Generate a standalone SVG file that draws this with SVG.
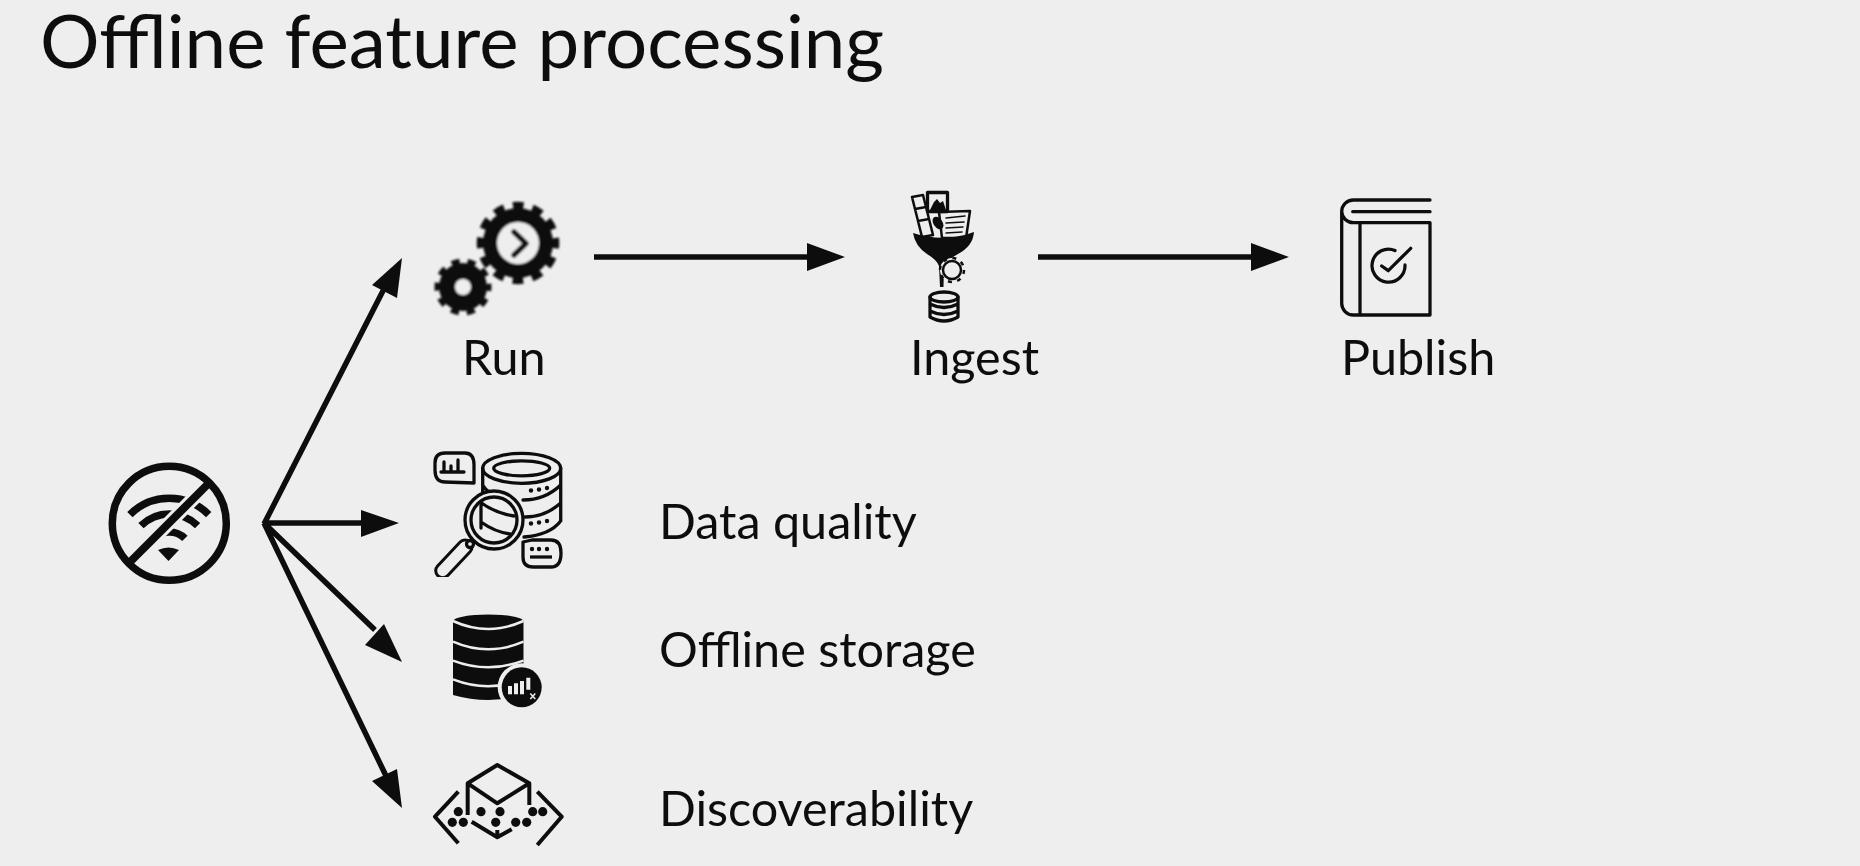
<svg xmlns="http://www.w3.org/2000/svg" width="1860" height="866" viewBox="0 0 1860 866">
<style>
.t{font-family:Lato,"Open Sans",sans-serif;fill:#111}
.l{font-size:48.500px}
.c{stroke:#111;stroke-width:5.500;fill:none}
.h{fill:#111;stroke:none}
.o{fill:none;stroke:#111;stroke-width:3.300;stroke-linecap:round;stroke-linejoin:round}
.d{fill:#111}
.bg{fill:#eee}
</style>
<defs>
<filter id="s" x="-5%" y="-5%" width="110%" height="110%"><feGaussianBlur stdDeviation="0.7"/></filter>
<filter id="g" x="-5%" y="-5%" width="110%" height="110%"><feGaussianBlur stdDeviation="0.8"/></filter>
<filter id="x" x="-2%" y="-5%" width="104%" height="110%"><feGaussianBlur stdDeviation="0.4"/></filter>
</defs>
<rect width="1860" height="866" fill="#eee"/>
<text id="title" class="t" x="40" y="68" font-size="74.500" filter="url(#x)">Offline feature processing</text>

<g id="connectors" filter="url(#x)">
<path class="c" d="M264 524L388 281M264 523H365M264 523L375 630M264 523L388 780M594 257H810M1038 257H1254"/>
<path class="h" d="M402 258L397 298L372 285ZM399 523L361 537V510ZM402 662L365 645L384 624ZM402 808L372 781L397 769ZM845 257L807 271V243ZM1289 257L1251 271V243Z"/>
</g>

<g id="node-offline" filter="url(#s)">
<path d="M129.900 514.600A55.700 55.700 0 0 1 208.700 514.600M141 525.700A40 40 0 0 1 197.600 525.700M153.700 538.400A22 22 0 0 1 184.900 538.400" fill="none" stroke="#111" stroke-width="7.500"/>
<path class="d" d="M158 550Q168.500 545 179 550L168.500 561Z"/>
<path d="M128 564L210 482" stroke="#eee" stroke-width="14" fill="none"/>
<path d="M131 561L207 485" stroke="#111" stroke-width="8" fill="none"/>
<circle cx="169.300" cy="523.300" r="57" fill="none" stroke="#111" stroke-width="7.500"/>
</g>

<g id="node-run">
<g filter="url(#g)">
<circle class="d" cx="518" cy="243" r="35"/>
<circle cx="518" cy="243" r="37" fill="none" stroke="#111" stroke-width="8.500" stroke-dasharray="10.500 8.870" stroke-dashoffset="5.250"/>
<circle class="bg" cx="518" cy="243" r="21"/>
<path d="M514 232L526 243.500L514 255" fill="none" stroke="#111" stroke-width="5.500" stroke-linecap="round" stroke-linejoin="round"/>
<circle class="d" cx="463" cy="287" r="24"/>
<circle cx="463" cy="287" r="25.500" fill="none" stroke="#111" stroke-width="6" stroke-dasharray="8 8" stroke-dashoffset="4"/>
<circle class="bg" cx="463" cy="287" r="8"/>
</g>
<text class="t l" x="462" y="375" filter="url(#x)">Run</text>
</g>

<g id="node-ingest">
<g filter="url(#s)">
<path class="o" style="stroke-width:2.500" d="M912 197L923 195L933 235L922 237ZM915 209L926 207M918 221L929 219"/>
<rect class="o" x="927.500" y="192.500" width="20" height="19"/>
<path class="d" d="M930 210L934 202L937 199L940 203L943 201L946 210Z"/>
<path class="o" style="stroke-width:2.500" d="M939 212L970 211L966 238H942Z"/>
<path class="o" style="stroke-width:1.500" d="M946 218L965 216M946 223L964 222M946 228L963 227M946 233L962 232"/>
<ellipse class="d" cx="938" cy="223" rx="4.500" ry="7" transform="rotate(-35 938 223)"/>
<path class="d" d="M913 233Q944 243 974 232Q973 246 958 254Q947 260 944 266L943.500 287H940L939 266Q937 260 927 254Q915 246 913 233Z"/>
<circle class="bg" cx="952" cy="270" r="12"/>
<circle cx="952" cy="270" r="9" fill="none" stroke="#111" stroke-width="2.500"/>
<circle cx="952" cy="270" r="12" fill="none" stroke="#111" stroke-width="2.500" stroke-dasharray="4 5.420"/>
<ellipse class="o" cx="944" cy="297" rx="14" ry="5"/>
<path class="o" d="M930 297V317Q944 325 958 317V297M930 304Q944 311 958 304M930 311Q944 318 958 311"/>
</g>
<text class="t l" x="910" y="375" filter="url(#x)">Ingest</text>
</g>

<g id="node-publish">
<g filter="url(#s)">
<path class="o" d="M1430 200H1353.300A11.700 11.700 0 0 0 1341.700 211.700V303.300A11.700 11.700 0 0 0 1353.300 315H1430V222.700H1353.300A11.700 11.700 0 0 1 1341.700 211.700M1352.700 211.700H1430M1360 222.700V315"/>
<path class="o" d="M1395 250.500A16.500 16.500 0 1 0 1405 265M1381.700 266L1388.300 270.700L1410.700 248.300"/>
</g>
<text class="t l" x="1341" y="375" filter="url(#x)">Publish</text>
</g>

<g id="node-quality">
<g filter="url(#s)">
<ellipse class="o" cx="521.700" cy="468.300" rx="39" ry="15"/>
<ellipse class="o" cx="521.700" cy="468.300" rx="28" ry="7.500"/>
<path class="o" d="M482.700 468V492M560.700 468V521M560.700 485Q545 500 523 500M482.700 485Q490 497 510 500M560.700 503Q545 517 525 517M560.700 521Q550 535 524 537"/>
<circle class="d" cx="531" cy="490.500" r="2.200"/><circle class="d" cx="539" cy="489.500" r="2.200"/><circle class="d" cx="547" cy="488" r="2.200"/>
<circle class="d" cx="531" cy="523.500" r="2.200"/><circle class="d" cx="539" cy="522.500" r="2.200"/><circle class="d" cx="547" cy="521" r="2.200"/>
<circle class="bg" cx="494" cy="520" r="30"/>
<circle class="o" cx="494" cy="520" r="29"/>
<circle class="o" cx="494" cy="520" r="23"/>
<path class="o" d="M480 502Q495 513 514 516M481 522Q495 532 510 534M481 505V528"/>
<path d="M465 547L442.700 570.700" stroke="#111" stroke-width="17" stroke-linecap="round"/>
<path d="M465 547L442.700 570.700" stroke="#eee" stroke-width="11" stroke-linecap="round"/>
<circle class="bg" cx="470" cy="544" r="3.500"/><circle class="o" cx="470" cy="544" r="3.500"/>
<path class="o" d="M445 453H465Q474 453 474 465V483L445 482Q435 482 435 470V463Q435 453 445 453Z"/>
<path class="o" d="M441 472H464M444 472V462M451 472V466M458 472V460"/>
<path class="o" d="M532 540H551Q561 540 561 553Q561 567 551 567H533Q523 567 523 557V542Z"/>
<circle class="d" cx="532" cy="549" r="2.200"/><circle class="d" cx="539" cy="549" r="2.200"/><circle class="d" cx="547" cy="549" r="2.200"/>
<path d="M530 557H552" stroke="#111" stroke-width="3.300"/>
</g>
<text class="t l" x="659" y="539" filter="url(#x)">Data quality</text>
</g>

<g id="node-storage">
<g filter="url(#s)">
<ellipse class="d" cx="488.300" cy="621" rx="35" ry="6.500"/>
<path class="d" d="M453 621H523.500V695Q488 705 453 695Z"/>
<path d="M453 621Q488 637 523.500 621M453 641.700Q488 657 523.500 641.700M453 660.700Q488 674 523.500 660.700M453 679.300Q488 693 523.500 679.300" fill="none" stroke="#eee" stroke-width="2.500"/>
<circle class="bg" cx="521.700" cy="687.300" r="24"/>
<circle class="d" cx="521.700" cy="687.300" r="20"/>
<path class="bg" d="M508 686h4v8.300h-4zM514 683.300h4v11h-4zM520 681h4v13.300h-4zM526.300 677.700h4v12h-4z"/>
<path d="M530.300 693.500L535.300 699M535.300 693.500L530.300 699" stroke="#eee" stroke-width="1.500"/>
</g>
<text class="t l" x="659" y="667" filter="url(#x)">Offline storage</text>
</g>

<g id="node-discover">
<g filter="url(#s)">
<path class="o" style="stroke-width:4;stroke-linecap:butt" d="M467.700 815V783.300L497.300 765L529.300 783.300V805M467.700 783.300L497.300 803.300L529.300 783.300M471.700 821.700L497.300 837.300L511.700 829.300M497.300 830V837M458.300 791.700L435 816.700L458.300 843.300M537.300 791.700L561.700 816.700L537.300 845"/>
<circle class="d" cx="458.300" cy="811.700" r="4.600"/><circle class="d" cx="481" cy="811.700" r="4.600"/><circle class="d" cx="500" cy="811.700" r="4.600"/><circle class="d" cx="532.700" cy="811.700" r="4.600"/><circle class="d" cx="542.700" cy="811.700" r="4.600"/>
<circle class="d" cx="452.300" cy="822.300" r="4.600"/><circle class="d" cx="463.300" cy="822.300" r="4.600"/><circle class="d" cx="495.700" cy="822.300" r="4.600"/><circle class="d" cx="515.700" cy="822.300" r="4.600"/><circle class="d" cx="526.700" cy="822.300" r="4.600"/>
</g>
<text class="t l" x="659" y="826" filter="url(#x)">Discoverability</text>
</g>
</svg>
